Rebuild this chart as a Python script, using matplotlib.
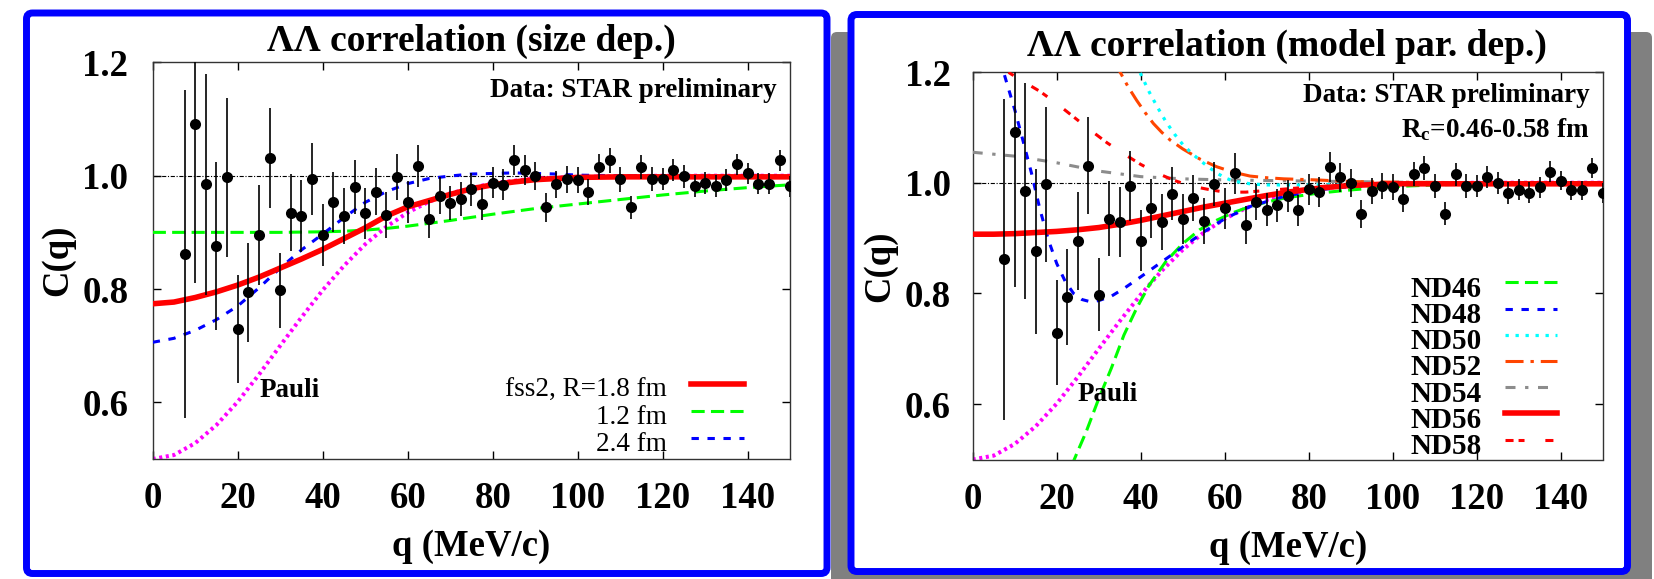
import matplotlib
matplotlib.use('Agg')
import matplotlib.pyplot as plt
from matplotlib.patches import FancyBboxPatch

plt.rcParams['font.family'] = ['Liberation Serif', 'DejaVu Serif']
plt.rcParams['font.weight'] = 'bold'
plt.rcParams['lines.scale_dashes'] = False
plt.rcParams['mathtext.fontset'] = 'custom'
plt.rcParams['mathtext.rm'] = 'Liberation Serif:bold'
plt.rcParams['mathtext.it'] = 'Liberation Serif:bold:italic'
plt.rcParams['mathtext.bf'] = 'Liberation Serif:bold'

# ---------------- data (STAR preliminary) ----------------
q_data = [7.5, 10, 12.5, 15, 17.5, 20, 22.5, 25, 27.5, 30, 32.5, 35, 37.5, 40, 42.5,
          45, 47.5, 50, 52.5, 55, 57.5, 60, 62.5, 65, 67.5, 70, 72.5, 75, 77.5, 80,
          82.5, 85, 87.5, 90, 92.5, 95, 97.5, 100, 102.5, 105, 107.5, 110, 112.5, 115,
          117.5, 120, 122.5, 125, 127.5, 130, 132.5, 135, 137.5, 140, 142.5, 145, 147.5, 150]
c_data = [0.862, 1.091, 0.985, 0.876, 0.997, 0.729, 0.794, 0.895, 1.031, 0.798, 0.935, 0.929,
          0.994, 0.895, 0.954, 0.929, 0.980, 0.934, 0.972, 0.931, 0.998, 0.954, 1.017, 0.924,
          0.965, 0.951, 0.959, 0.976, 0.950, 0.988, 0.984, 1.028, 1.010, 0.999, 0.944, 0.985,
          0.994, 0.992, 0.971, 1.016, 1.027, 0.994, 0.944, 1.015, 0.994, 0.994, 1.010, 0.999,
          0.982, 0.987, 0.982, 0.992, 1.020, 1.004, 0.986, 0.986, 1.027, 0.981]
c_err = [0.29, 0.28, 0.195, 0.149, 0.14, 0.095, 0.087, 0.088, 0.088, 0.066, 0.068, 0.063,
         0.063, 0.055, 0.053, 0.050, 0.048, 0.045, 0.042, 0.041, 0.040, 0.037, 0.037, 0.034,
         0.032, 0.030, 0.030, 0.029, 0.028, 0.028, 0.027, 0.027, 0.026, 0.025, 0.025, 0.024,
         0.024, 0.023, 0.023, 0.022, 0.022, 0.022, 0.021, 0.021, 0.021, 0.020, 0.020, 0.020,
         0.020, 0.019, 0.019, 0.019, 0.019, 0.018, 0.018, 0.018, 0.018, 0.018]

# ---------------- Pauli (free) ----------------
pauli_q = [0, 5, 10, 15, 20, 25, 30, 35, 40, 45, 50, 55, 60, 65, 70, 80, 90, 100, 120, 150]
pauli_c = [0.500, 0.507, 0.528, 0.560, 0.601, 0.649, 0.700, 0.750, 0.798, 0.841, 0.879,
           0.910, 0.935, 0.954, 0.969, 0.987, 0.995, 0.998, 1.000, 1.000]

# ---------------- left panel: size dependence ----------------
r18_q = [0, 5, 10, 15, 20, 25, 30, 35, 40, 45, 50, 55, 60, 65, 70, 75, 80, 85, 90, 95, 100,
         110, 120, 130, 140, 150]
r18_c = [0.774, 0.777, 0.785, 0.795, 0.807, 0.821, 0.837, 0.853, 0.870, 0.889, 0.908, 0.929,
         0.945, 0.956, 0.967, 0.977, 0.984, 0.989, 0.993, 0.995, 0.997, 0.998, 0.998, 0.998,
         0.998, 0.998]
r12_q = [0, 10, 20, 30, 40, 45, 50, 55, 60, 70, 80, 90, 100, 110, 120, 130, 140, 150]
r12_c = [0.900, 0.900, 0.900, 0.900, 0.901, 0.902, 0.904, 0.907, 0.911, 0.921, 0.932, 0.942,
         0.950, 0.958, 0.966, 0.973, 0.979, 0.984]
r24_q = [0, 5, 10, 15, 20, 25, 30, 35, 40, 45, 50, 55, 60, 65, 70, 75, 80, 85, 90, 95, 100,
         110, 120, 130, 140, 150]
r24_c = [0.706, 0.713, 0.727, 0.746, 0.770, 0.802, 0.837, 0.869, 0.897, 0.926, 0.953, 0.972,
         0.986, 0.995, 0.9995, 1.003, 1.004, 1.005, 1.004, 1.003, 1.001, 1.000, 0.999, 0.999,
         0.999, 0.999]

# ---------------- right panel: model parameter dependence ----------------
nd46_q = [23.5, 25, 27, 30, 33, 36, 39, 42, 46, 50, 54, 58, 62, 66, 70, 74, 82, 90, 100, 110,
          120, 135, 150]
nd46_c = [0.488, 0.515, 0.550, 0.610, 0.665, 0.725, 0.773, 0.815, 0.858, 0.890, 0.915, 0.932,
          0.946, 0.957, 0.965, 0.972, 0.981, 0.987, 0.993, 0.996, 0.998, 0.999, 1.000]
nd48_q = [6.5, 8, 10, 12, 14, 16, 18, 20, 22, 24, 26, 28, 30, 33, 36, 40, 45, 50, 55, 60, 66,
          74, 82, 90, 100, 120, 150]
nd48_c = [1.222, 1.183, 1.132, 1.075, 1.017, 0.952, 0.897, 0.854, 0.822, 0.800, 0.789, 0.785,
          0.787, 0.795, 0.809, 0.830, 0.857, 0.884, 0.911, 0.935, 0.957, 0.975, 0.987, 0.993,
          0.997, 0.999, 1.000]
nd50_q = [39, 40, 42, 44, 46, 48, 50, 52, 54, 56, 58, 60, 62, 66, 70, 80, 90, 100, 120, 150]
nd50_c = [1.215, 1.196, 1.164, 1.136, 1.110, 1.088, 1.069, 1.054, 1.041, 1.029, 1.018, 1.009,
          1.003, 0.998, 0.996, 0.996, 0.997, 0.998, 0.999, 1.000]
nd52_q = [33.5, 35, 37, 39, 41, 43, 45, 47, 50, 54, 58, 62, 66, 70, 74, 82, 90, 100, 120, 150]
nd52_c = [1.220, 1.201, 1.173, 1.149, 1.127, 1.107, 1.091, 1.077, 1.061, 1.043, 1.029, 1.019,
          1.012, 1.009, 1.007, 1.005, 1.002, 1.001, 1.000, 1.000]
nd54_q = [0, 10, 20, 30, 40, 50, 60, 70, 80, 90, 100, 120, 150]
nd54_c = [1.055, 1.048, 1.036, 1.021, 1.011, 1.007, 1.005, 1.004, 1.003, 1.002, 1.001, 1.000,
          1.000]
nd56_q = [0, 5, 10, 15, 20, 25, 30, 35, 40, 45, 50, 55, 60, 65, 70, 75, 80, 85, 90, 100, 110,
          120, 135, 150]
nd56_c = [0.907, 0.907, 0.908, 0.910, 0.912, 0.915, 0.919, 0.925, 0.932, 0.940, 0.948, 0.956,
          0.963, 0.970, 0.977, 0.983, 0.988, 0.992, 0.995, 0.998, 0.998, 0.998, 0.998, 0.998]
nd58_q = [6, 7.5, 9, 12, 16, 20, 24, 28, 32, 36, 40, 44, 48, 52, 56, 60, 65, 70, 80, 90, 100,
          120, 150]
nd58_c = [1.213, 1.205, 1.197, 1.183, 1.165, 1.143, 1.119, 1.095, 1.072, 1.052, 1.033, 1.017,
          1.004, 0.994, 0.988, 0.983, 0.983, 0.986, 0.992, 0.996, 0.998, 0.999, 1.000]

x_ticks = [0, 20, 40, 60, 80, 100, 120, 140]
y_ticks = [0.6, 0.8, 1.0, 1.2]
y_ticklabels = ['0.6', '0.8', '1.0', '1.2']

left_title = 'ΛΛ correlation (size dep.)'
right_title = 'ΛΛ correlation (model par. dep.)'
left_labels = ['fss2, R=1.8 fm', '1.2 fm', '2.4 fm']
right_labels = ['ND46', 'ND48', 'ND50', 'ND52', 'ND54', 'ND56', 'ND58']

# ---------------- styles ----------------
st_red = dict(color='#ff0000', lw=4.0, ls='-')
st_green = dict(color='#00ff00', lw=2.2, ls=(0, (9.5, 4.5)))
st_blue = dict(color='#0000ff', lw=2.2, ls=(0, (5.3, 6.2)))
st_cyan = dict(color='#00ffff', lw=2.3, ls=(0, (2.4, 4.8)))
st_orange = dict(color='#ff4500', lw=2.2, ls=(0, (13, 5, 2.4, 5)))
st_gray = dict(color='#8c8c8c', lw=2.2, ls=(0, (7.2, 6.9, 2.4, 6.9)))
st_red58 = dict(color='#ff0000', lw=2.2, ls=(0, (5.8, 3.6, 4.3, 15)))
st_mag = dict(color='#ff00ff', lw=2.9, ls=(0, (2.2, 2.6)))

W, H = 1654, 579
fig = plt.figure(figsize=(W / 100, H / 100), dpi=100)

bg = fig.add_axes([0, 0, 1, 1], zorder=0)
bg.set_xlim(0, W)
bg.set_ylim(H, 0)
bg.axis('off')
bg.add_patch(FancyBboxPatch((831, 32), 1652 - 831, H - 32 + 10,
                            boxstyle='round,pad=0,rounding_size=6', fc='#808080', ec='none'))
bg.add_patch(FancyBboxPatch((26.5, 13), 827 - 26.5, 573.5 - 13,
                            boxstyle='round,pad=0,rounding_size=6', fc='white', ec='#0000ff', lw=5.0))
bg.add_patch(FancyBboxPatch((851, 14.5), 1627.5 - 851, 571.5 - 14.5,
                            boxstyle='round,pad=0,rounding_size=6', fc='white', ec='#0000ff', lw=5.0))

axL = fig.add_axes([152.7 / W, 1 - 459 / H, 637.5 / W, 396.6 / H], zorder=1)
axR = fig.add_axes([972.7 / W, 1 - 459.5 / H, 630.3 / W, 387.5 / H], zorder=1)


def style(ax, ypad):
    ax.set_xlim(0, 150)
    ax.set_ylim(0.5, 1.2)
    ax.set_xticks(x_ticks)
    ax.set_yticks(y_ticks)
    ax.set_yticklabels(y_ticklabels)
    ax.tick_params(direction='in', length=5.8, width=1.0, top=True, right=True,
                   labelsize=26.5, colors='black')
    ax.tick_params(axis='x', pad=16)
    ax.tick_params(axis='y', pad=ypad)
    for s in ax.spines.values():
        s.set_color('#333333')
        s.set_linewidth(1.0)
    ax.axhline(1.0, color='black', lw=0.8, ls=(0, (3, 1.2, 0.8, 1.2)), zorder=1)
    ax.errorbar(q_data, c_data, yerr=c_err, fmt='o', color='black', ms=8.0, mew=0,
                elinewidth=1.2, capsize=0, zorder=6)
    ax.plot(pauli_q, pauli_c, zorder=2, **st_mag)


# left panel
style(axL, 17.5)
axL.plot(r12_q, r12_c, zorder=3, **st_green)
axL.plot(r24_q, r24_c, zorder=3, **st_blue)
axL.plot(r18_q, r18_c, zorder=4, **st_red)
axL.text(0.978, 0.9135, 'Data: STAR preliminary', transform=axL.transAxes,
         ha='right', va='baseline', fontsize=19.5)
axL.text(32.3, 0.609, 'Pauli', ha='center', va='baseline', fontsize=19.5)
for lab, st, yl, yb in zip(left_labels, [st_red, st_green, st_blue],
                           [0.189, 0.121, 0.053], [0.1576, 0.0895, 0.0214]):
    axL.text(0.807, yb, lab, transform=axL.transAxes, ha='right', va='baseline',
             fontsize=19.5, fontweight='normal')
    axL.plot([0.845, 0.928], [yl, yl], transform=axL.transAxes, **st)
axL.text(0.5, -0.2206, 'q (MeV/c)', transform=axL.transAxes, ha='center', va='center',
         fontsize=26.5)
axL.text(-0.1486, 0.502, 'C(q)', transform=axL.transAxes, ha='center', va='center',
         rotation=90, fontsize=26.5)

# right panel
style(axR, 15.6)
axR.plot(nd54_q, nd54_c, zorder=3, **st_gray)
axR.plot(nd52_q, nd52_c, zorder=3, **st_orange)
axR.plot(nd50_q, nd50_c, zorder=3, **st_cyan)
axR.plot(nd58_q, nd58_c, zorder=3, **st_red58)
axR.plot(nd46_q, nd46_c, zorder=3, **st_green)
axR.plot(nd48_q, nd48_c, zorder=3, **st_blue)
axR.plot(nd56_q, nd56_c, zorder=4, **st_red)
axR.text(0.978, 0.9234, 'Data: STAR preliminary', transform=axR.transAxes,
         ha='right', va='baseline', fontsize=19.5)
axR.text(0.978, 0.831, r'R$_{\rm c}$=0.46-0.58 fm', transform=axR.transAxes,
         ha='right', va='baseline', fontsize=19.5)
axR.text(32.2, 0.606, 'Pauli', ha='center', va='baseline', fontsize=19.5)
r_styles = [st_green, st_blue, st_cyan, st_orange, st_gray, st_red, st_red58]
r_line_y = [0.4573, 0.3884, 0.3213, 0.2542, 0.1863, 0.1192, 0.0503]
r_base_y = [0.4201, 0.3512, 0.2841, 0.2170, 0.1492, 0.0821, 0.0132]
for lab, st, yl, yb in zip(right_labels, r_styles, r_line_y, r_base_y):
    axR.text(0.8076, yb, lab, transform=axR.transAxes, ha='right', va='baseline',
             fontsize=21)
    axR.plot([0.8441, 0.9263], [yl, yl], transform=axR.transAxes, **st)
axR.text(0.5, -0.2268, 'q (MeV/c)', transform=axR.transAxes, ha='center', va='center',
         fontsize=26.5)
axR.text(-0.147, 0.4994, 'C(q)', transform=axR.transAxes, ha='center', va='center',
         rotation=90, fontsize=26.5)

fig.text(471 / W, 1 - 41.5 / H, left_title, ha='center', va='center', fontsize=27)
fig.text(1287 / W, 1 - 46 / H, right_title, ha='center', va='center', fontsize=27)

fig.savefig('out.png', dpi=100)
